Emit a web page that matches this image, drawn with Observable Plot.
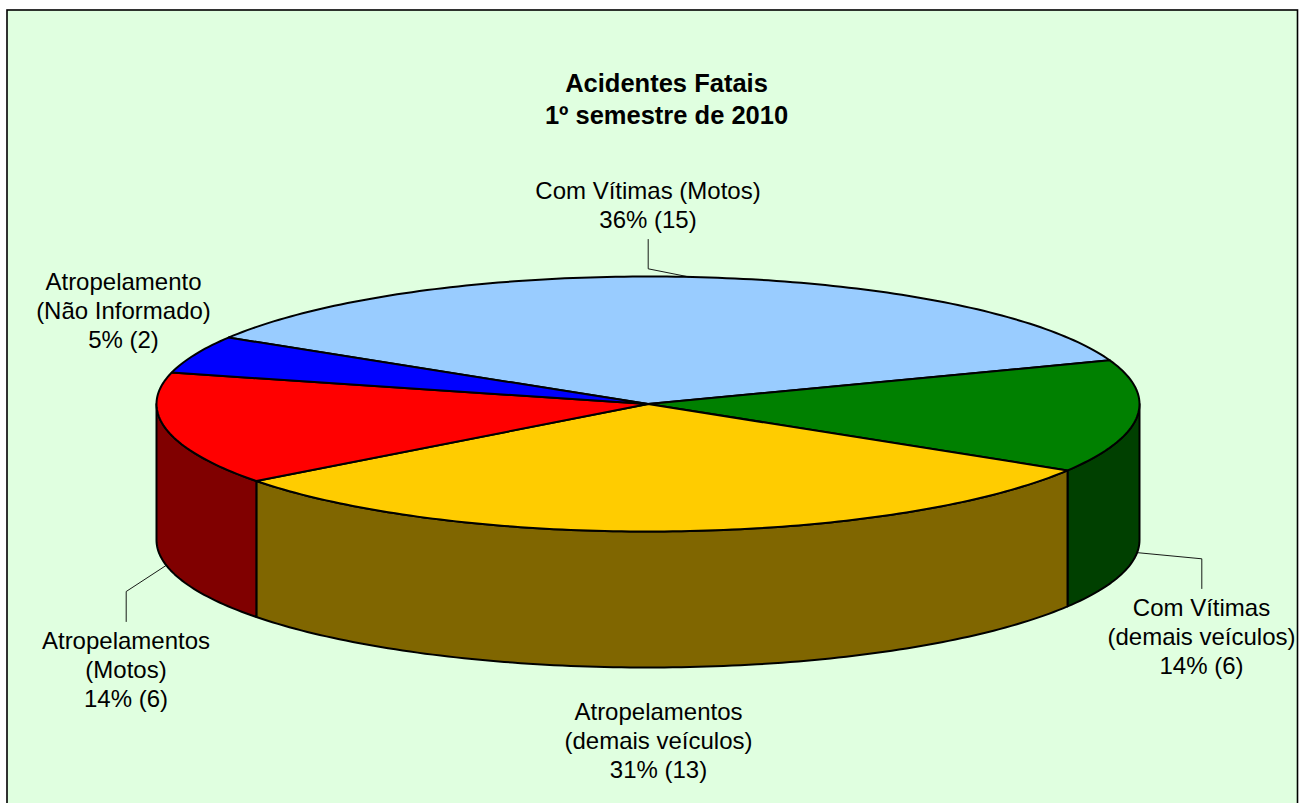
<!DOCTYPE html>
<html><head><meta charset="utf-8">
<script src="https://cdn.jsdelivr.net/npm/d3@7"></script>
<script src="https://cdn.jsdelivr.net/npm/@observablehq/plot@0.6"></script>
<style>html,body{margin:0;padding:0;background:#fff}svg{display:block}</style>
</head><body><div id="chart"></div>
<script>
// Data
const categories = ["Com Vítimas (Motos)", "Com Vítimas\n(demais veículos)", "Atropelamentos\n(demais veículos)", "Atropelamentos\n(Motos)", "Atropelamento\n(Não Informado)"];
const counts = [15, 6, 13, 6, 2];
const topColors = ["#99CCFF", "#008000", "#FFCC00", "#FF0000", "#0000FF"];
const sideColors = ["#4C6680", "#004000", "#806600", "#800000", "#000080"];
const titleText = "Acidentes Fatais\n1º semestre de 2010";

// Layout (pixels on the page)
const W = 1303, H = 803;
const cx = 647.5, cy = 403.5, rx = 491.5, ry = 127.5, depthPx = 136;
const startAngle = 148.6; // degrees, counter-clockwise from east; slices run clockwise
const labelCentres = [[647.5, 204], [1201, 635.5], [658, 739.5], [125.5, 668.5], [123, 309.5]];
const leaderBends = [[[647.7, 268.3], [647.7, 239]], [[1201.3, 558.3], [1201.3, 588]], null, [[125.7, 591], [125.7, 621]], null];
const leaderAngleShift = [0.9, 0, 0, 0, 0];
const ux = (p) => (p - cx) / rx, uy = (p) => (cy - p) / ry;
const depth = depthPx / ry;

const total = d3.sum(counts);
const rad = (a) => a * Math.PI / 180;
let acc = startAngle;
const slices = counts.map((v, i) => {
  const a0 = acc, a1 = acc - v / total * 360;
  acc = a1;
  return {i, a0, a1, mid: (a0 + a1) / 2, name: categories[i], v};
});
const arc = (a0, a1, dy = 0) => {
  const n = Math.max(2, Math.ceil(Math.abs(a1 - a0)));
  return d3.range(n + 1).map(k => {
    const a = rad(a0 + (a1 - a0) * k / n);
    return [Math.cos(a), Math.sin(a) + dy];
  });
};
const topPts = [], sidePts = [];
for (const s of slices) {
  const poly = [[0, 0], ...arc(s.a0, s.a1), [0, 0]];
  poly.forEach(p => topPts.push({x: p[0], y: p[1], id: s.i, color: topColors[s.i]}));
  // visible outer wall: lower half of the rim, going clockwise from east (0) to west (-180)
  for (const off of [0, -360]) {
    const hi = Math.min(s.a0 + off, 0), lo = Math.max(s.a1 + off, -180);
    if (hi > lo) {
      const upper = arc(hi, lo), lower = arc(lo, hi, -depth);
      [...upper, ...lower, upper[0]].forEach(p => sidePts.push({x: p[0], y: p[1], id: s.i + "-" + off, color: sideColors[s.i]}));
    }
  }
}
const labels = slices.map((s, i) => ({
  x: ux(labelCentres[i][0]), y: uy(labelCentres[i][1]),
  text: `${s.name}\n${Math.round(s.v / total * 100)}% (${s.v})`
}));
const leaders = [];
slices.forEach((s, i) => {
  if (!leaderBends[i]) return;
  const a = rad(s.mid + leaderAngleShift[i]), sinA = Math.sin(a);
  leaders.push({x: Math.cos(a), y: sinA + (sinA < 0 ? -depth : 0), id: i});
  leaderBends[i].forEach(b => leaders.push({x: ux(b[0]), y: uy(b[1]), id: i}));
});

const chart = Plot.plot({
  width: W, height: H, margin: 0,
  style: {fontFamily: "'Liberation Sans', Arial, sans-serif", background: "#fff", color: "#000"},
  x: {axis: null, domain: [ux(0), ux(W)], range: [0, W]},
  y: {axis: null, domain: [uy(H), uy(0)], range: [H, 0]},
  marks: [
    Plot.frame({fill: "#E0FFE0", stroke: "#000", strokeWidth: 1.6, insetLeft: 6.5, insetTop: 9.5, insetRight: 6, insetBottom: -5}),
    Plot.line(sidePts, {x: "x", y: "y", z: "id", fill: "color", stroke: "#000", strokeWidth: 2, curve: "linear"}),
    Plot.line(topPts, {x: "x", y: "y", z: "id", fill: "color", stroke: "#000", strokeWidth: 2, curve: "linear"}),
    Plot.line(leaders, {x: "x", y: "y", z: "id", stroke: "#000", strokeWidth: 0.9, curve: "linear"}),
    Plot.text(labels, {x: "x", y: "y", text: "text", fontSize: 24, lineHeight: 1.21, fill: "#000"}),
    Plot.text([titleText], {x: [ux(666)], y: [uy(97)], text: d => d, fontSize: 25.5, fontWeight: "bold", lineHeight: 1.25, fill: "#000"})
  ]
});
document.getElementById("chart").append(chart);
</script></body></html>
